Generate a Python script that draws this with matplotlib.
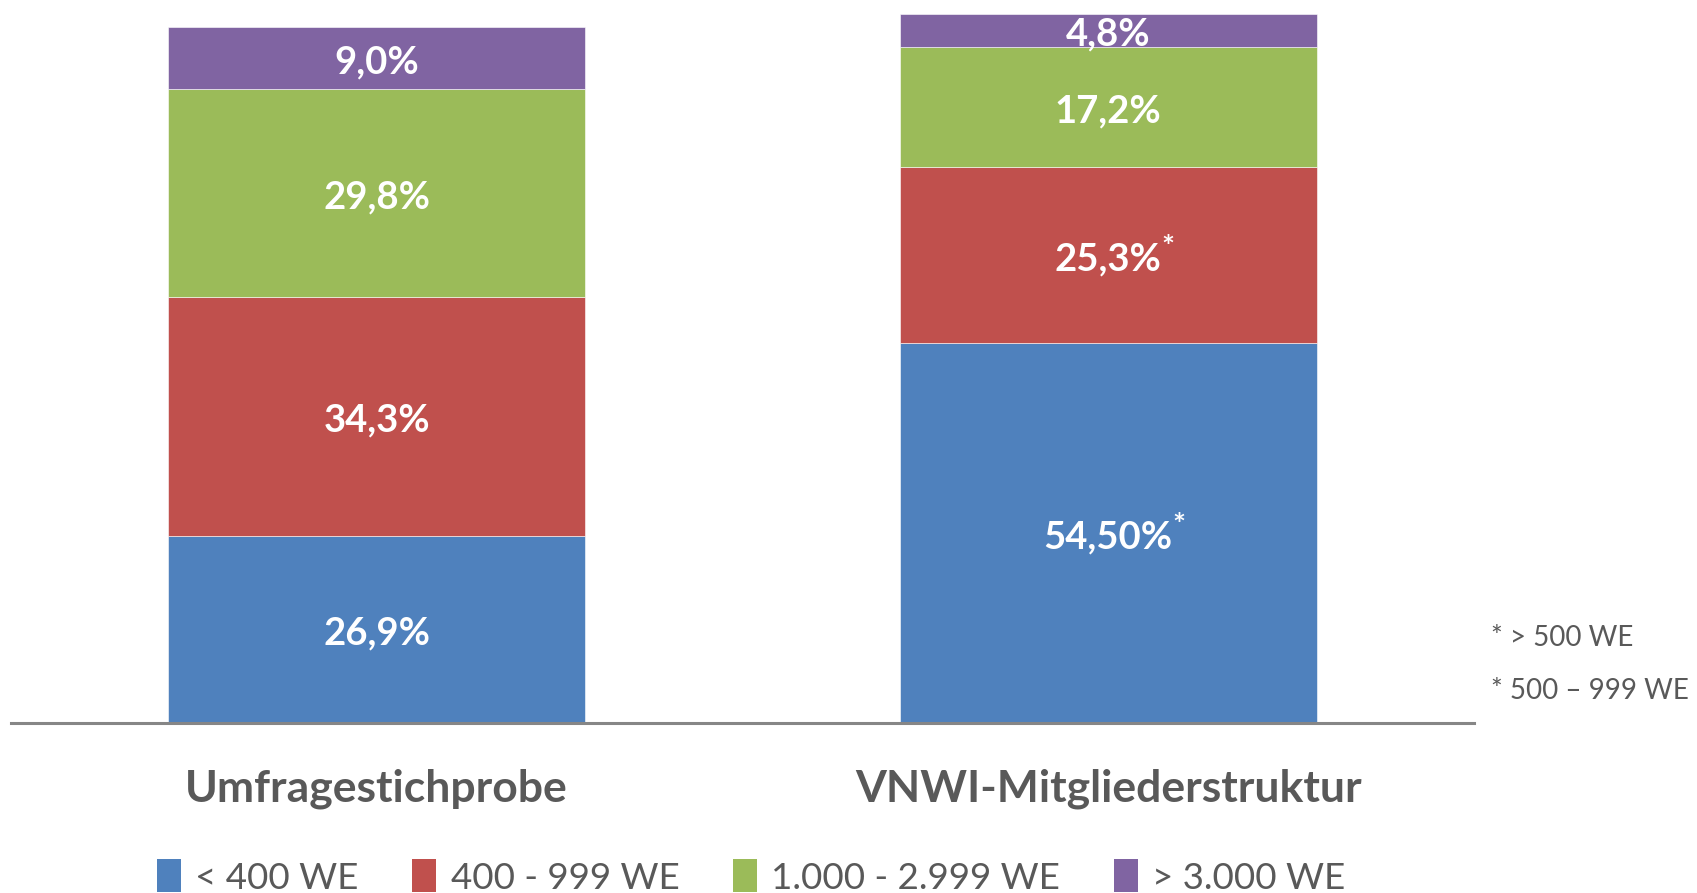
import matplotlib
matplotlib.use("Agg")
import matplotlib.pyplot as plt
import matplotlib.transforms as mtransforms
from matplotlib.patches import Patch

categories = ["Umfragestichprobe", "VNWI-Mitgliederstruktur"]
series_names = ["< 400 WE", "400 - 999 WE", "1.000 - 2.999 WE", "> 3.000 WE"]
values_lt400 = [26.9, 54.5]
values_400_999 = [34.3, 25.3]
values_1000_2999 = [29.8, 17.2]
values_gt3000 = [9.0, 4.8]
labels_lt400 = ["26,9%", "54,50%"]
labels_400_999 = ["34,3%", "25,3%"]
labels_1000_2999 = ["29,8%", "17,2%"]
labels_gt3000 = ["9,0%", "4,8%"]
star_lt400 = [False, True]
star_400_999 = [False, True]
footnotes = ["* > 500 WE", "* 500 \u2013 999 WE"]

colors = ["#4F81BD", "#C0504D", "#9BBB59", "#8064A2"]
gray = "#595959"
font = "Lato"

W, H = 1697, 893
fig = plt.figure(figsize=(W / 100, H / 100), dpi=100)
ax = fig.add_axes([11 / W, (H - 723) / H, 1463 / W, (723 - 14) / H])
shift = ax.transData + mtransforms.ScaledTranslation(0, -3 / 72, fig.dpi_scale_trans)

series = [values_lt400, values_400_999, values_1000_2999, values_gt3000]
labels = [labels_lt400, labels_400_999, labels_1000_2999, labels_gt3000]
stars = [star_lt400, star_400_999, [False, False], [False, False]]
x = list(range(len(categories)))
bottoms = [0.0] * len(categories)
for vals, labs, st, c in zip(series, labels, stars, colors):
    ax.bar(x, vals, width=0.57, bottom=bottoms, color=c, edgecolor="white",
           linewidth=0.4, zorder=2)
    for i, (v, lab, s) in enumerate(zip(vals, labs, st)):
        t = ax.text(x[i], bottoms[i] + v / 2, lab, ha="center", va="center",
                    color="white", fontsize=27.5, fontweight="bold", family=font,
                    zorder=3, transform=shift)
        if s:
            ax.annotate("*", xy=(1, 1), xycoords=t, xytext=(0, 6),
                        textcoords="offset points", ha="left", va="top",
                        color="white", fontsize=22, fontweight="bold",
                        family=font, zorder=3)
    bottoms = [b + v for b, v in zip(bottoms, vals)]

ax.set_xlim(-0.5, 1.5)
ax.set_ylim(0, max(bottoms))
for s in ["top", "right", "left"]:
    ax.spines[s].set_visible(False)
ax.spines["bottom"].set_color("#868686")
ax.spines["bottom"].set_linewidth(2.2)
ax.set_yticks([])
ax.set_xticks(x)
ax.set_xticklabels(categories, fontsize=32, fontweight="bold", family=font,
                   color=gray)
ax.tick_params(axis="x", length=0, pad=33)

# footnotes
fig.text(1491 / W, 1 - 638 / H, footnotes[0], fontsize=20, family=font,
         color=gray, va="center", ha="left")
fig.text(1491 / W, 1 - 691 / H, footnotes[1], fontsize=20, family=font,
         color=gray, va="center", ha="left")

handles = [Patch(facecolor=c, edgecolor="none") for c in colors]
leg = fig.legend(handles, series_names, loc="center", ncol=4,
                 bbox_to_anchor=(0.4426, 1 - 877 / H), frameon=False,
                 prop={"family": font, "size": 26.5}, labelcolor=gray,
                 handlelength=0.65, handleheight=1.0, handletextpad=0.4,
                 columnspacing=1.45)

fig.savefig("out.png", dpi=100, facecolor="white")
